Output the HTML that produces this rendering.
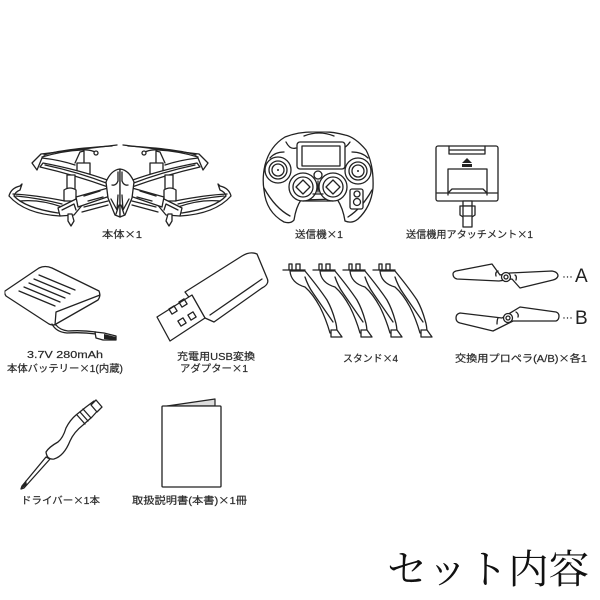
<!DOCTYPE html>
<html lang="ja"><head><meta charset="utf-8"><title>セット内容</title>
<style>
html,body{margin:0;padding:0;background:#fff}
svg{display:block}
text{font-family:"Liberation Sans","Noto Sans CJK JP",sans-serif;font-size:10px;fill:#2a2a2a;stroke:#2a2a2a;stroke-width:.2}
tspan.x{font-family:"Noto Sans CJK JP",sans-serif}
.l{fill:none;stroke:#222;stroke-width:1.3;stroke-linejoin:round;stroke-linecap:round}
.w{fill:#fff;stroke:#222;stroke-width:1.3;stroke-linejoin:round;stroke-linecap:round}
.k{fill:#222;stroke:none}
</style></head><body>
<svg width="600" height="600" viewBox="0 0 600 600" xmlns="http://www.w3.org/2000/svg">
<defs>
<filter id="b" x="0" y="0" width="100%" height="100%"><feGaussianBlur stdDeviation="0.3"/></filter>
<g id="half">
<path class="w" d="M117 145 Q75 150 41 154 L32 163 L37 170 L42 158 Q60 160 75 165"/>
<path class="l" d="M42 157 Q62 151 82 150 Q90 149 97 153 M44 155 Q62 149 112 146"/>
<circle class="w" cx="96" cy="153" r="2"/>
<path class="w" d="M75 163 L80 152 L84 151 L84 163"/>
<path class="w" d="M77 163 H90 V174 H77Z"/>
<path class="w" d="M43 163 Q80 170 110 181 L108 187 Q75 175 40 167Z"/>
<path class="l" d="M45 165 Q78 172 109 184"/>
<path class="w" d="M67 175 H75 V190 H67Z"/>
<path class="w" d="M64 190 Q70 186 76 190 V201 H64Z"/>
<path class="w" d="M9 196 Q11 188 20 186 L22 184 L20 190 Q15 192 14 196 Q25 208 58 213 L62 212 L60 216 Q25 214 9 196Z"/>
<path class="l" d="M13 194 Q35 195 65 201 M16 196 Q38 198 62 204 M20 201 Q40 199 62 207"/>
<path class="w" d="M58 208 L76 199 L84 203 L74 215 L60 216Z"/>
<path class="l" d="M62 210 L74 204 L76 210"/>
<path class="w" d="M68 214 L72 214 L74 221 L71 226 L68 221Z"/>
<path class="w" d="M76 197 L108 188 L110 196 L78 207Z"/>
<path class="l" d="M84 196 L100 191 M88 201 L103 197 M84 207 L108 201 M82 212 L108 205"/>
<path class="w" d="M120 169 Q111 170 106 182 L108 198 L115 215 L120 217Z"/>
<path class="l" d="M112 185 Q116 186 118 181 V172 M111 199 L117 210 L118 195 M116 214 L119 205"/>
</g>
<g id="stand">
<path class="w" d="M289 270 V264 H292 V270Z M296 270 V264 H300 V270Z"/>
<path class="l" d="M283 270 H305"/>
<path class="w" d="M290 271 Q291 283 305 287 Q313 294 320 307 Q326 319 330 333 H337 Q337 326 335 320 Q332 309 327 300 Q319 288 305 271Z"/>
<path class="l" d="M305 277 Q308 286 313 293 L333 322"/>
<path class="w" d="M331 330 L337 330 L342 337 H331Z"/>
</g>
</defs>
<g filter="url(#b)">
<use href="#half"/>
<use href="#half" transform="translate(240,0) scale(-1,1)"/>

<!-- controller -->
<path class="w" d="M319 132 Q300 131 285 137 Q270 146 265 165 Q262 178 264 190 Q266 212 284 222 Q291 224 294 220 Q296 207 301 200 L337 199 Q343 208 345 221 Q352 224 358 219 Q371 207 373 188 Q374 165 366 150 Q355 137 345 135 Q330 131 319 132Z"/>
<path class="l" d="M264 188 Q275 208 290 216 M372 190 Q362 208 348 217 M286 142 Q290 150 296 148 M350 142 Q346 148 342 148 M304 136 Q319 130 334 136 M270 158 Q275 152 284 152 M368 158 Q362 152 352 152"/>
<rect class="w" x="297" y="142" width="48" height="27" rx="3"/>
<rect class="l" x="302" y="146" width="38" height="20"/>
<circle class="w" cx="278" cy="170" r="13"/><circle class="l" cx="278" cy="170" r="9"/><circle class="l" cx="278" cy="170" r="6"/><circle class="k" cx="278" cy="170" r="1"/>
<circle class="w" cx="358" cy="171" r="13"/><circle class="l" cx="358" cy="171" r="9"/><circle class="l" cx="358" cy="171" r="6"/><circle class="k" cx="358" cy="171" r="1"/>
<circle class="w" cx="318" cy="175" r="4"/>
<circle class="w" cx="303" cy="187" r="14"/><circle class="l" cx="303" cy="187" r="10"/><path class="l" d="M303 180 L310 187 L303 194 L296 187Z"/>
<circle class="w" cx="333" cy="187" r="14"/><circle class="l" cx="333" cy="187" r="10"/><path class="l" d="M333 180 L340 187 L333 194 L326 187Z"/>
<path class="l" d="M318 181 V192 M313 194 H323 M303 201 H333"/>
<rect class="w" x="350" y="189" width="13" height="20" rx="2"/><circle class="l" cx="357" cy="194" r="3"/><circle class="l" cx="357" cy="202" r="3.5"/>

<!-- attachment -->
<rect class="w" x="436" y="146" width="62" height="55" rx="2"/>
<path class="l" d="M449 146 V154 H485 V146 M449 150 H485"/>
<path class="k" d="M467 158 L472 163 H462Z M462 164 H472 V167 H462Z"/>
<path class="l" d="M448 195 V169 H487 V195"/>
<path class="l" d="M437 193 H497 M448 193 L452 189 H483 L487 193"/>
<path class="w" d="M463 201 H472 V206 H463Z"/>
<path class="w" d="M460 206 H475 V215 L472 217 V227 H463 V217 L460 215Z"/>
<path class="l" d="M463 206 V216 H472 V206"/>

<!-- battery -->
<path class="w" d="M5 291 L39 268 Q45 265 52 268 L99 291 Q101 296 98 300 L56 324 Q53 326 49 324 L6 296 Q4 293 5 291Z"/>
<path class="l" d="M100 295 L56 312 L55 325"/>
<path class="l" d="M39 275 L75 290 M34 279 L70 294 M29 283 L65 298 M24 287 L60 302 M19 291 L55 306"/>
<path class="l" d="M52 324 Q56 332 67 333 Q82 332 96 334 M56 325 Q60 330 68 331 Q82 330 96 332"/>
<path class="w" d="M95 332 L104 333 L116 336 L116 340 L103 340 L96 338Z"/>
<path class="k" d="M104 334 L116 337 L116 340 L104 339Z"/>

<!-- usb -->
<path class="w" d="M185 292 L242 256 Q250 251 257 254 L267 278 Q270 284 262 288 L214 322 L205 318Z"/>
<path class="l" d="M210 315 L262 279"/>
<path class="w" d="M157 317 L192 295 L205 318 L170 341Z"/>
<g class="l"><rect x="170" y="307" width="6" height="6" transform="rotate(-32 173 310)"/><rect x="180" y="300" width="6" height="6" transform="rotate(-32 183 303)"/><rect x="189" y="313" width="6" height="6" transform="rotate(-32 192 316)"/><rect x="179" y="319" width="6" height="6" transform="rotate(-32 182 322)"/></g>

<!-- stands -->
<use href="#stand"/><use href="#stand" x="30"/><use href="#stand" x="60"/><use href="#stand" x="90"/>

<!-- propellers -->
<path class="w" d="M453 274 Q453 272 456 271 L492 264 L500 275 L510 273 L552 271 Q558 272 558 276 Q557 279 553 280 L520 288 L512 279 L499 281 L457 279 Q453 278 453 274Z"/>
<circle class="w" cx="506" cy="277" r="4.5"/><circle class="l" cx="506" cy="277" r="2"/>
<path class="l" d="M496 276 Q495 272 498 271 M516 280 Q517 276 515 275"/>
<path class="w" d="M456 318 Q456 314 460 313 L502 318 L520 307 L556 312 Q559 313 559 316 Q559 320 556 321 L513 321 L493 331 L460 323 Q456 322 456 318Z"/>
<circle class="w" cx="508" cy="318" r="4.5"/><circle class="l" cx="508" cy="318" r="2"/>
<path class="l" d="M497 324 Q497 320 498 318 M518 317 Q519 314 516 312"/>
<g class="k"><circle cx="564" cy="277" r=".7"/><circle cx="567.5" cy="277" r=".7"/><circle cx="571" cy="277" r=".7"/><circle cx="564" cy="318" r=".7"/><circle cx="567.5" cy="318" r=".7"/><circle cx="571" cy="318" r=".7"/></g>

<!-- screwdriver -->
<path class="w" d="M46 457 L22 486 L21 489 L24 488 L50 459Z"/>
<path class="k" d="M26 480 L21 489 L27 485 Z"/>
<path class="w" d="M46 452 Q49 447 58 442 Q63 438 66 428 Q70 420 76 415 L86 407 L94 401 L101 407 L92 417 L83 425 Q74 432 70 441 Q64 456 54 459 Q47 460 46 452Z"/>
<path class="l" d="M77 415 L85 424 M80 412 L88 421 M83 409 L91 418"/>
<path class="w" d="M91 405 L96 400 L102 407 L97 412Z"/>

<!-- booklet -->
<path d="M167 406 L215 399 V406Z" fill="#ddd" stroke="#222" stroke-width="1.2" stroke-linejoin="round"/>
<rect class="w" x="162" y="406" width="59" height="81" rx="1"/>

<!-- labels -->
<text x="102" y="238" textLength="40" lengthAdjust="spacingAndGlyphs">本体<tspan class="x">×</tspan>1</text>
<text x="295" y="238" textLength="48" lengthAdjust="spacingAndGlyphs">送信機<tspan class="x">×</tspan>1</text>
<text x="406" y="238" textLength="127" lengthAdjust="spacingAndGlyphs">送信機用アタッチメント<tspan class="x">×</tspan>1</text>
<text x="27" y="358" textLength="76" lengthAdjust="spacingAndGlyphs">3.7V 280mAh</text>
<text x="7" y="372" textLength="116" lengthAdjust="spacingAndGlyphs">本体バッテリー<tspan class="x">×</tspan>1(内蔵)</text>
<text x="177" y="360" textLength="78" lengthAdjust="spacingAndGlyphs">充電用USB変換</text>
<text x="180" y="372" textLength="68" lengthAdjust="spacingAndGlyphs">アダプター<tspan class="x">×</tspan>1</text>
<text x="343" y="362" textLength="55" lengthAdjust="spacingAndGlyphs">スタンド<tspan class="x">×</tspan>4</text>
<text x="455" y="362" textLength="132" lengthAdjust="spacingAndGlyphs">交換用プロペラ(A/B)<tspan class="x">×</tspan>各1</text>
<text x="21" y="504" textLength="79" lengthAdjust="spacingAndGlyphs">ドライバー<tspan class="x">×</tspan>1本</text>
<text x="132" y="504" textLength="115" lengthAdjust="spacingAndGlyphs">取扱説明書(本書)<tspan class="x">×</tspan>1冊</text>
<text x="575" y="282" style="font-size:19px;fill:#222;stroke:none">A</text>
<text x="575" y="324" style="font-size:19px;fill:#222;stroke:none">B</text>
</g>
<text x="387" y="583" textLength="202" lengthAdjust="spacingAndGlyphs" style="font-family:'Liberation Serif','Noto Serif CJK SC',serif;font-size:40px;fill:#111;stroke:none">セット内容</text>
</svg>
</body></html>
